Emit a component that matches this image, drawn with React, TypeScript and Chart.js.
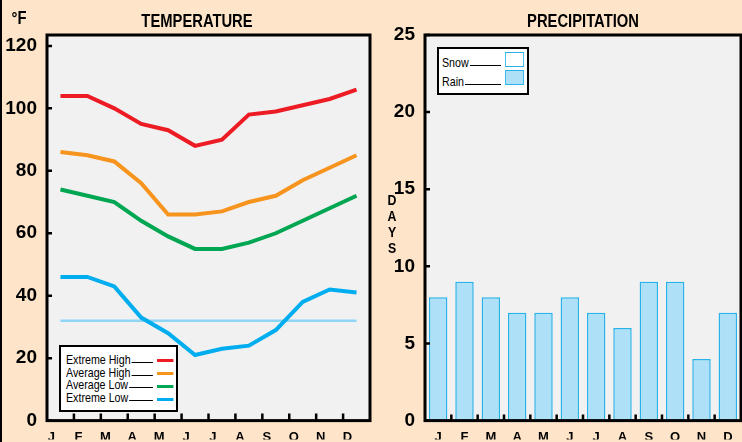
import React, { useEffect, useRef } from "react";
import { Chart, registerables } from "chart.js";

Chart.register(...registerables);

const MONTHS = ["J", "F", "M", "A", "M", "J", "J", "A", "S", "O", "N", "D"];
const EXTREME_HIGH = [104, 104, 100, 95, 93, 88, 90, 98, 99, 101, 103, 106];
const AVERAGE_HIGH = [86, 85, 83, 76, 66, 66, 67, 70, 72, 77, 81, 85];
const AVERAGE_LOW = [74, 72, 70, 64, 59, 55, 55, 57, 60, 64, 68, 72];
const EXTREME_LOW = [46, 46, 43, 33, 28, 21, 23, 24, 29, 38, 42, 41];
const FREEZING_F = 32;
const TEMP_TICKS = [0, 20, 40, 60, 80, 100, 120];

const RAIN_DAYS = [8, 9, 8, 7, 7, 8, 7, 6, 9, 9, 4, 7];
const SNOW_DAYS = [0, 0, 0, 0, 0, 0, 0, 0, 0, 0, 0, 0];
const DAY_TICKS = [0, 5, 10, 15, 20, 25];

const SANS = '"Liberation Sans", Arial, sans-serif';
const SQUEEZE = 0.82;
const PEACH = "#fee4c9";
const PLOT_BG = "#f1f1f1";
const RED = "#ed1c24";
const ORANGE = "#f7941d";
const GREEN = "#00a651";
const BLUE = "#00aeef";
const FREEZE_BLUE = "#8fd6f6";
const RAIN_FILL = "#aee1f8";
const RAIN_EDGE = "#27b2ea";

function makeFrame(xTick: number, yTick: number) {
  return {
    id: "frame",
    beforeDraw(chart: any) {
      const { ctx, chartArea: a } = chart;
      ctx.save();
      ctx.fillStyle = PLOT_BG;
      ctx.fillRect(a.left, a.top, a.right - a.left, a.bottom - a.top);
      ctx.restore();
    },
    afterDraw(chart: any) {
      const { ctx, chartArea: a } = chart;
      ctx.save();
      ctx.strokeStyle = "#000";
      ctx.lineWidth = 3;
      ctx.strokeRect(a.left, a.top, a.right - a.left, a.bottom - a.top);
      ctx.lineWidth = 2.5;
      const ys = chart.scales.y;
      ctx.beginPath();
      ys.ticks.forEach((t: any) => {
        const py = ys.getPixelForValue(t.value);
        ctx.moveTo(a.left, py);
        ctx.lineTo(a.left + yTick, py);
      });
      const xs = chart.scales.x;
      const n = chart.data.labels.length;
      for (let i = 0; i < n - 1; i++) {
        const px = (xs.getPixelForValue(i) + xs.getPixelForValue(i + 1)) / 2;
        ctx.moveTo(px, a.bottom);
        ctx.lineTo(px, a.bottom - xTick);
      }
      ctx.stroke();
      ctx.restore();
    },
  };
}

const xTickFont = { family: SANS, size: 13, weight: "bold" as const };
const yTickFont = { family: SANS, size: 19, weight: "bold" as const };
const noGrid = { display: false, drawTicks: false };

function lineDs(label: string, data: number[], color: string, width = 4, order = 0) {
  return {
    label,
    data,
    borderColor: color,
    backgroundColor: color,
    borderWidth: width,
    pointRadius: 0,
    tension: 0,
    fill: false,
    order,
    borderJoinStyle: "miter" as const,
  };
}

function Txt(props: { x: number; y: number; size: number; text: string; weight?: string }) {
  const { x, y, size, text, weight = "bold" } = props;
  return (
    <div
      style={{
        position: "absolute",
        left: x,
        top: y - size / 2,
        fontSize: size,
        lineHeight: `${size}px`,
        fontWeight: weight as any,
        transform: `translateX(-50%) scaleX(${SQUEEZE})`,
        whiteSpace: "nowrap",
        color: "#000",
      }}
    >
      {text}
    </div>
  );
}

function LegendRow(props: { text: string; swatch: React.ReactNode; height: number; lineDrop: number }) {
  return (
    <div style={{ display: "flex", alignItems: "center", height: props.height }}>
      <span style={{ fontSize: 13, lineHeight: "13px", whiteSpace: "nowrap" }}>{props.text}</span>
      <span
        style={{
          flex: 1,
          height: 0,
          borderBottom: "1px solid #000",
          position: "relative",
          top: props.lineDrop,
          marginLeft: 1,
        }}
      />
      <span style={{ marginLeft: 4.3 / SQUEEZE, display: "flex" }}>{props.swatch}</span>
    </div>
  );
}

function LegendBox(props: {
  left: number;
  top: number;
  width: number;
  height: number;
  padTop: number;
  padLeft: number;
  padRight: number;
  children: React.ReactNode;
}) {
  const inner = props.width - 4 - props.padLeft - props.padRight;
  return (
    <div
      style={{
        position: "absolute",
        left: props.left,
        top: props.top,
        width: props.width,
        height: props.height,
        boxSizing: "border-box",
        border: "2px solid #000",
        background: "#fff",
        fontFamily: SANS,
      }}
    >
      <div
        style={{
          position: "absolute",
          left: props.padLeft,
          top: props.padTop,
          width: inner / SQUEEZE,
          transform: `scaleX(${SQUEEZE})`,
          transformOrigin: "left top",
        }}
      >
        {props.children}
      </div>
    </div>
  );
}

export default function App() {
  const leftRef = useRef<HTMLCanvasElement>(null);
  const rightRef = useRef<HTMLCanvasElement>(null);

  useEffect(() => {
    const temp = new Chart(leftRef.current!, {
      type: "line",
      data: {
        labels: MONTHS,
        datasets: [
          lineDs("Extreme High", EXTREME_HIGH, RED),
          lineDs("Average High", AVERAGE_HIGH, ORANGE),
          lineDs("Average Low", AVERAGE_LOW, GREEN),
          lineDs("Extreme Low", EXTREME_LOW, BLUE),
          lineDs("Freezing", MONTHS.map(() => FREEZING_F), FREEZE_BLUE, 2.5, 10),
        ],
      },
      options: {
        animation: false,
        responsive: false,
        devicePixelRatio: 1,
        layout: { padding: { top: 35, right: 2, left: 0, bottom: 0 } },
        plugins: { legend: { display: false }, tooltip: { enabled: false } },
        scales: {
          x: {
            type: "category",
            offset: true,
            grid: noGrid,
            border: { display: false },
            ticks: { color: "#000", font: xTickFont, padding: 9, labelOffset: -9, maxRotation: 0, autoSkip: false },
            afterFit: (s: any) => {
              s.height = 19;
            },
          },
          y: {
            min: 0,
            max: 123.5,
            grid: noGrid,
            border: { display: false },
            ticks: { color: "#000", font: yTickFont, padding: 10 },
            afterBuildTicks: (s: any) => {
              s.ticks = TEMP_TICKS.map((v) => ({ value: v }));
            },
            afterFit: (s: any) => {
              s.width = 47;
            },
          },
        },
      },
      plugins: [makeFrame(7, 5)],
    } as any);

    const precip = new Chart(rightRef.current!, {
      type: "bar",
      data: {
        labels: MONTHS,
        datasets: [
          {
            label: "Rain",
            data: RAIN_DAYS,
            backgroundColor: RAIN_FILL,
            borderColor: RAIN_EDGE,
            borderWidth: 1.5,
            categoryPercentage: 1,
            barPercentage: 0.7,
            stack: "days",
          },
          {
            label: "Snow",
            data: SNOW_DAYS,
            backgroundColor: "#ffffff",
            borderColor: RAIN_EDGE,
            borderWidth: 1.5,
            categoryPercentage: 1,
            barPercentage: 0.7,
            stack: "days",
          },
        ],
      },
      options: {
        animation: false,
        responsive: false,
        devicePixelRatio: 1,
        layout: { padding: { top: 35, right: 1, left: 0, bottom: 0 } },
        plugins: { legend: { display: false }, tooltip: { enabled: false } },
        scales: {
          x: {
            stacked: true,
            grid: noGrid,
            border: { display: false },
            ticks: { color: "#000", font: xTickFont, padding: 9, maxRotation: 0, autoSkip: false },
            afterFit: (s: any) => {
              s.height = 19;
            },
          },
          y: {
            stacked: true,
            min: 0,
            max: 25,
            grid: noGrid,
            border: { display: false },
            ticks: { color: "#000", font: yTickFont, padding: 10 },
            afterBuildTicks: (s: any) => {
              s.ticks = DAY_TICKS.map((v) => ({ value: v }));
            },
            afterFit: (s: any) => {
              s.width = 53;
            },
          },
        },
      },
      plugins: [makeFrame(6, 5)],
    } as any);

    return () => {
      temp.destroy();
      precip.destroy();
    };
  }, []);

  const tempLegend: [string, string][] = [
    ["Extreme High", RED],
    ["Average High", ORANGE],
    ["Average Low", GREEN],
    ["Extreme Low", BLUE],
  ];

  const boxSwatch = (fill: string) => (
    <span
      style={{
        width: 19 / SQUEEZE,
        height: 15,
        boxSizing: "border-box",
        border: `1.5px solid ${RAIN_EDGE}`,
        background: fill,
        display: "block",
        position: "relative",
        top: -3.5,
      }}
    />
  );

  return (
    <div
      style={{
        position: "fixed",
        left: 0,
        top: 0,
        width: 742,
        height: 442,
        background: PEACH,
        overflow: "hidden",
        fontFamily: SANS,
        color: "#000",
      }}
    >
      <canvas ref={leftRef} width={372} height={442} style={{ position: "absolute", left: 0, top: 0 }} />
      <canvas ref={rightRef} width={370} height={442} style={{ position: "absolute", left: 372, top: 0 }} />
      <div style={{ position: "absolute", left: 0, top: 0, width: 2, height: 442, background: "#000" }} />

      <Txt x={19} y={18} size={18} text="°F" />
      <Txt x={197} y={21} size={18} text="TEMPERATURE" />
      <Txt x={583} y={21} size={18} text="PRECIPITATION" />

      {["D", "A", "Y", "S"].map((ch, i) => (
        <Txt key={i} x={392} y={199 + i * 16} size={15} text={ch} />
      ))}

      <LegendBox left={59} top={345} width={119} height={67} padTop={5.9} padLeft={4.7} padRight={3}>
        {tempLegend.map(([t, c]) => (
          <LegendRow
            key={t}
            text={t}
            height={12.8}
            lineDrop={3}
            swatch={
              <span
                style={{ width: 16 / SQUEEZE, height: 3, background: c, display: "block", position: "relative", top: 1.4 }}
              />
            }
          />
        ))}
      </LegendBox>

      <LegendBox left={437} top={47} width={92} height={48} padTop={4.3} padLeft={3} padRight={3}>
        <LegendRow text="Snow" height={18.7} lineDrop={3} swatch={boxSwatch("#fff")} />
        <LegendRow text="Rain" height={18.7} lineDrop={3} swatch={boxSwatch(RAIN_FILL)} />
      </LegendBox>
    </div>
  );
}
